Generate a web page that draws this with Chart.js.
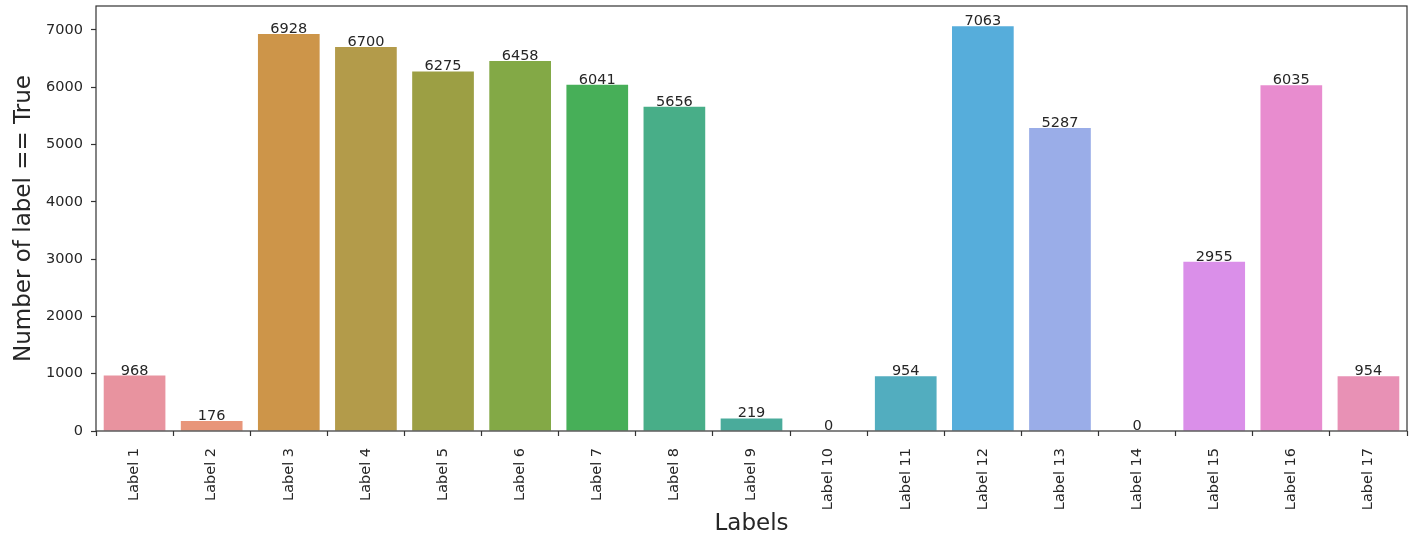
<!DOCTYPE html>
<html>
<head>
<meta charset="utf-8">
<script src="https://cdn.jsdelivr.net/npm/chart.js@4.4.0/dist/chart.umd.min.js"></script>
<style>
  html, body { margin: 0; padding: 0; background: #fff; }
  #wrap { width: 1413px; height: 540px; }
</style>
</head>
<body>
<div id="wrap"><canvas id="myChart"></canvas></div>
<script>
var labels = ['Label 1', 'Label 2', 'Label 3', 'Label 4', 'Label 5', 'Label 6', 'Label 7', 'Label 8', 'Label 9',
              'Label 10', 'Label 11', 'Label 12', 'Label 13', 'Label 14', 'Label 15', 'Label 16', 'Label 17'];
var counts = [968, 176, 6928, 6700, 6275, 6458, 6041, 5656, 219, 0, 954, 7063, 5287, 0, 2955, 6035, 954];
var barColors = ['#e8939f', '#e8967a', '#cd9549', '#b39b4a', '#9c9f44', '#83a946', '#47af58', '#48ae88', '#4aab9b',
                 '#4cacac', '#52adbf', '#56addb', '#9aade8', '#bba0e8', '#da8fe9', '#e88ccf', '#e891b5'];
var yTicks = [0, 1000, 2000, 3000, 4000, 5000, 6000, 7000];
var yMax = 7416;

var textColor = '#262626';
var font = 'DejaVu Sans';

// frame around plot area + value labels on bars
var extras = {
  id: 'extras',
  afterDatasetsDraw: function(chart) {
    var ctx = chart.ctx;
    var a = chart.chartArea;
    ctx.save();
    ctx.strokeStyle = '#333';
    ctx.lineWidth = 1.2;
    ctx.strokeRect(a.left, a.top, a.right - a.left, a.bottom - a.top);

    ctx.fillStyle = textColor;
    ctx.font = '14.5px "' + font + '"';
    ctx.textAlign = 'center';
    ctx.textBaseline = 'alphabetic';
    chart.getDatasetMeta(0).data.forEach(function(bar, i) {
      ctx.fillText(String(counts[i]), bar.x, bar.y - 1);
    });
    ctx.restore();
  }
};

var ctx = document.getElementById('myChart').getContext('2d');
var chart = new Chart(ctx, {
  type: 'bar',
  data: {
    labels: labels,
    datasets: [{
      data: counts,
      backgroundColor: barColors,
      borderWidth: 0,
      categoryPercentage: 0.8,
      barPercentage: 1.0
    }]
  },
  options: {
    responsive: true,
    maintainAspectRatio: false,
    animation: false,
    layout: { padding: { left: 10, right: 6, top: 6, bottom: 0 } },
    plugins: { legend: { display: false }, tooltip: { enabled: false } },
    scales: {
      x: {
        grid: { display: true, drawOnChartArea: false, drawTicks: true, tickLength: 5, color: '#333', tickWidth: 1.2 },
        border: { display: false },
        ticks: { color: textColor, font: { family: font, size: 14.5 }, minRotation: 90, maxRotation: 90, padding: 12 },
        title: { display: true, text: 'Labels', color: textColor, font: { family: font, size: 23 }, padding: { top: 0, bottom: 2 } },
        afterFit: function(s) { s.height = 109; s.paddingLeft = 0; s.paddingRight = 0; }
      },
      y: {
        min: 0,
        max: yMax,
        grid: { display: true, drawOnChartArea: false, drawTicks: true, tickLength: 5, color: '#333', tickWidth: 1.2 },
        border: { display: false },
        afterBuildTicks: function(s) { s.ticks = yTicks.map(function(v) { return { value: v }; }); },
        ticks: { color: textColor, font: { family: font, size: 14.5 }, padding: 8, callback: function(v) { return String(v); } },
        title: { display: true, text: 'Number of label == True', color: textColor, font: { family: font, size: 23 }, padding: { top: 0, bottom: 4 } },
        afterFit: function(s) { s.width = 86; s.paddingTop = 0; s.paddingBottom = 0; }
      }
    }
  },
  plugins: [extras]
});
</script>
</body>
</html>
